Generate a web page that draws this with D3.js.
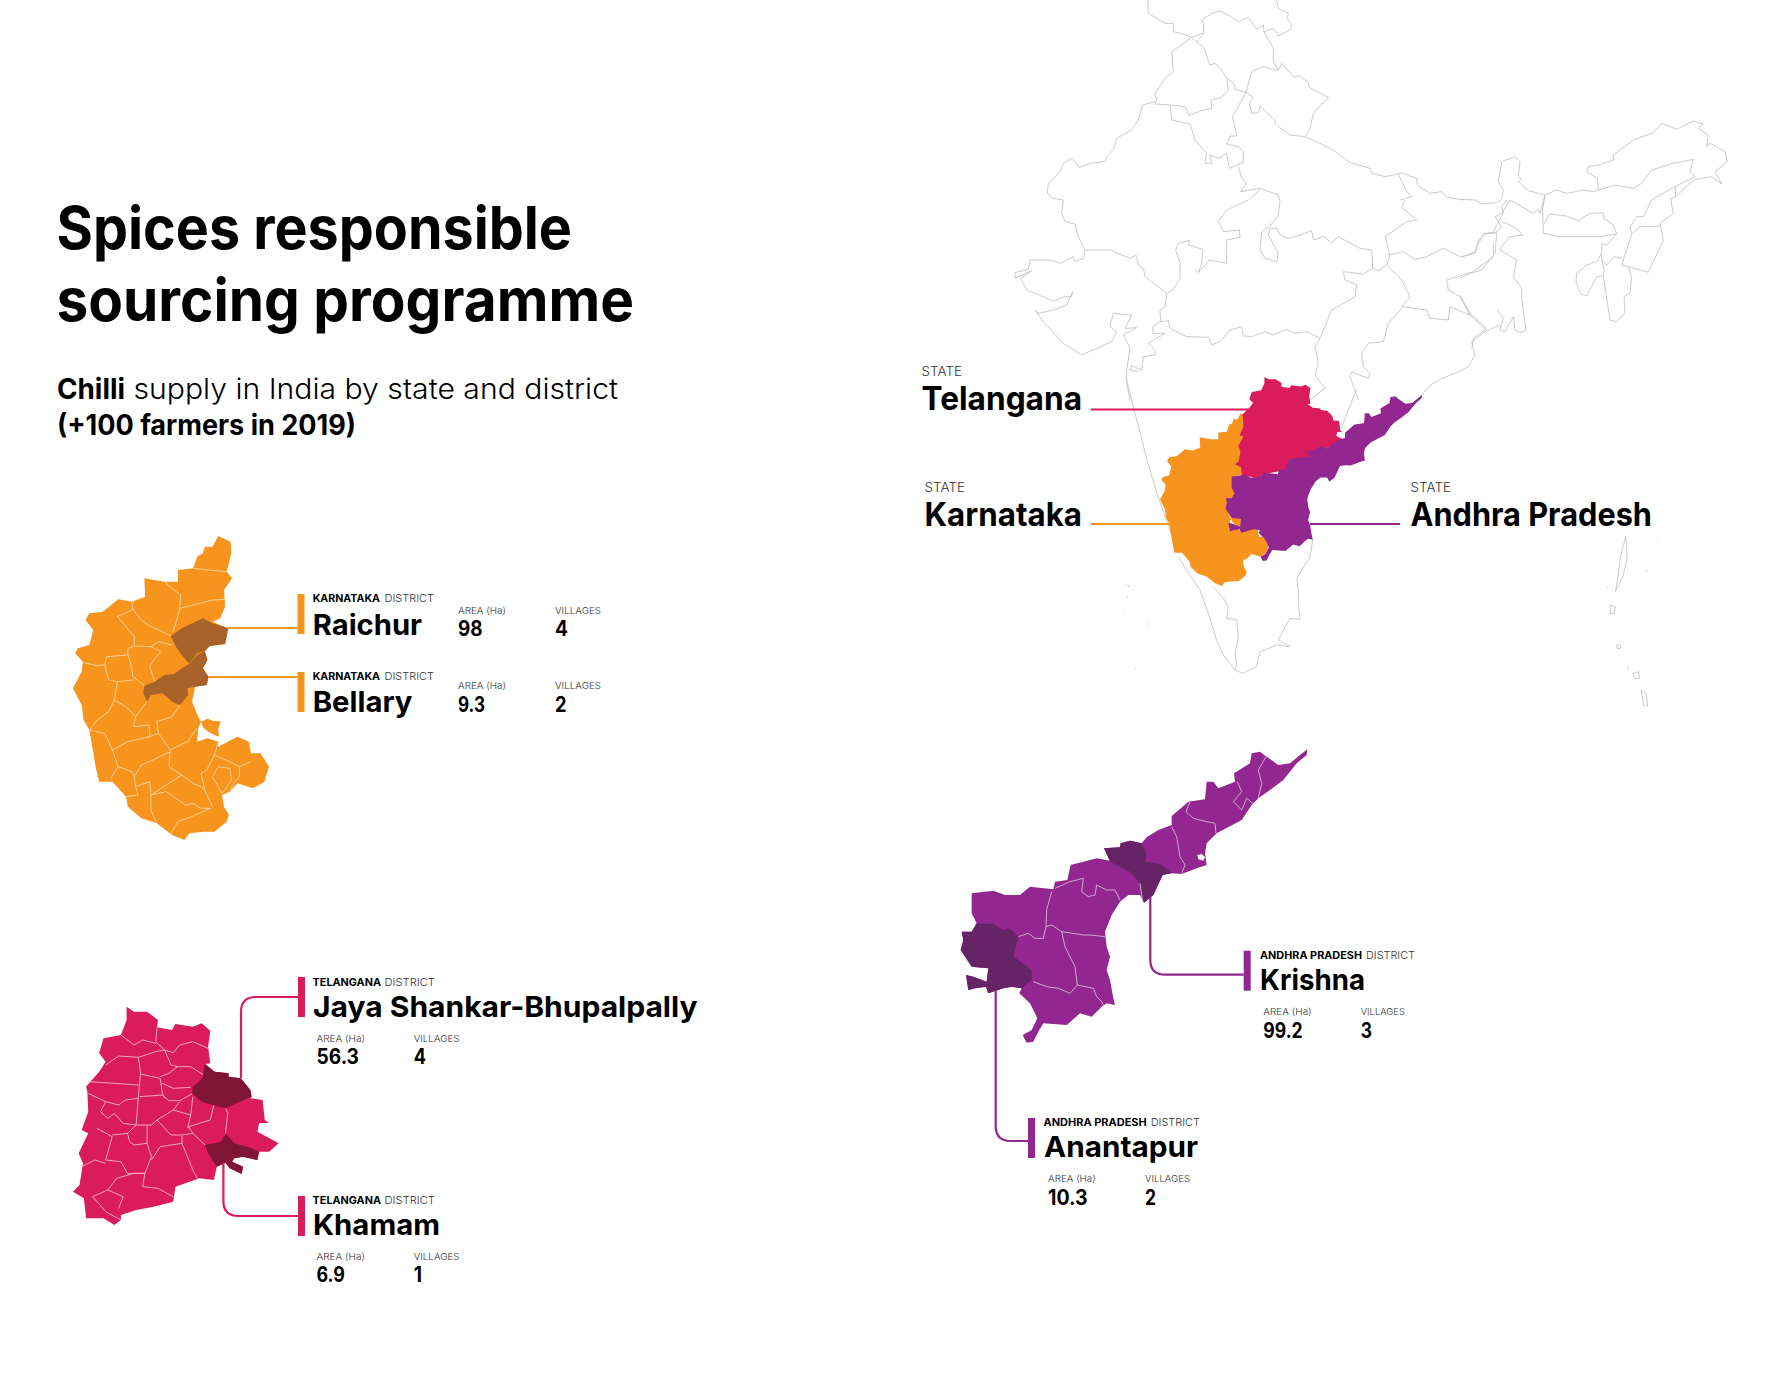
<!DOCTYPE html>
<html>
<head>
<meta charset="utf-8">
<script src="https://cdn.jsdelivr.net/npm/d3@7/dist/d3.min.js"></script>
<style>
  body { margin: 0; background: #fff; }
  svg { display: block; }
  text { font-family: Inter, Lato, sans-serif; }
</style>
</head>
<body>
<svg id="chart"></svg>
<script>
var svgW = 1783;
var svgH = 1378;

// ---- values
var stateNames = ["Telangana", "Karnataka", "Andhra Pradesh"];
var karnatakaDistricts = ["Raichur", "Bellary"];
var karnatakaAreas = ["98", "9.3"];
var karnatakaVillages = ["4", "2"];
var telanganaDistricts = ["Jaya Shankar-Bhupalpally", "Khamam"];
var telanganaAreas = ["56.3", "6.9"];
var telanganaVillages = ["4", "1"];
var andhraDistricts = ["Krishna", "Anantapur"];
var andhraAreas = ["99.2", "10.3"];
var andhraVillages = ["3", "2"];

// ---- outlines, in tracing units of each map
var karnatakaOutline = [[440,48],[472,65],[474,100],[462,155],[476,175],[455,210],[458,260],[445,295],[425,305],[466,325],[458,372],[418,378],[405,395],[412,420],[400,445],[415,470],[410,495],[380,500],[378,510],[372,545],[388,590],[395,605],[388,625],[385,665],[412,655],[440,665],[440,680],[490,650],[520,665],[525,700],[550,700],[572,740],[560,785],[530,805],[490,790],[470,815],[450,825],[455,860],[468,885],[462,905],[430,935],[400,935],[365,940],[352,960],[320,945],[280,910],[240,895],[205,860],[200,830],[165,785],[130,785],[122,745],[105,630],[90,600],[85,555],[62,505],[85,455],[88,425],[68,400],[75,385],[105,375],[115,330],[95,300],[105,280],[140,275],[180,238],[215,245],[250,230],[248,175],[300,185],[335,185],[335,150],[375,145],[385,110],[400,100],[405,80],[425,80]];
var karnatakaIsland = [[395,605],[412,596],[428,603],[446,604],[440,628],[442,650],[420,640],[402,625]];
var raichurOutline = [[317,348],[345,325],[400,295],[425,310],[466,325],[458,372],[418,378],[405,392],[385,400],[365,432],[345,405],[330,380]];
var bellaryOutline = [[365,432],[385,405],[405,392],[412,420],[400,445],[415,470],[410,495],[380,500],[360,505],[362,525],[340,555],[320,545],[295,520],[265,525],[255,545],[245,520],[248,497],[275,485],[300,465],[325,462],[345,445]];
var karnatakaBorders = [
  [[375,145],[415,150],[462,155]],
  [[300,185],[325,210],[342,225],[340,265],[425,240],[458,238]],
  [[340,265],[330,310],[322,335]],
  [[250,230],[215,245],[218,268],[178,290],[200,320],[222,350],[222,378],[205,385],[205,405],[150,410],[145,435],[125,437],[90,428]],
  [[218,268],[240,300],[265,320],[295,335],[317,348]],
  [[222,378],[265,380],[285,365],[320,375]],
  [[265,380],[290,395],[272,420],[262,440],[275,485]],
  [[205,405],[215,440],[218,470],[248,497]],
  [[145,435],[155,480],[178,485],[218,480]],
  [[178,485],[170,540],[155,575],[125,600],[105,630]],
  [[170,540],[200,560],[225,590],[220,620],[260,615],[262,650],[285,640],[315,690]],
  [[255,545],[225,590]],
  [[340,555],[320,590],[280,605],[285,640]],
  [[315,690],[360,665],[385,625]],
  [[105,630],[145,640],[165,690],[180,740],[160,775]],
  [[165,690],[205,665],[262,650]],
  [[180,740],[215,755],[222,770],[225,800],[232,825],[200,830]],
  [[315,695],[270,720],[240,735],[222,770]],
  [[315,695],[312,740],[345,765],[375,790],[395,800],[405,810]],
  [[345,765],[305,795],[265,825],[262,785],[225,800]],
  [[265,825],[305,815],[355,855],[375,850],[395,865],[420,865]],
  [[265,825],[265,870],[280,910]],
  [[420,865],[370,890],[335,905],[315,945]],
  [[440,665],[430,705],[410,750],[395,760],[405,810],[425,860]],
  [[430,705],[470,725],[495,740],[525,725]],
  [[495,740],[495,770],[480,790],[470,815]],
  [[425,770],[440,740],[470,745],[475,780],[450,820],[425,770]]
];

var telanganaOutline = [[178,110],[195,125],[225,125],[250,150],[248,172],[282,180],[290,162],[330,170],[350,160],[370,182],[365,230],[370,280],[358,282],[380,305],[412,310],[412,320],[440,325],[462,360],[465,380],[462,385],[490,390],[495,450],[505,458],[482,460],[478,485],[527,520],[505,545],[482,545],[478,570],[445,560],[425,565],[420,575],[445,590],[442,612],[415,595],[405,578],[385,590],[378,630],[345,625],[290,650],[285,695],[240,710],[200,720],[165,735],[165,750],[150,765],[125,745],[85,745],[80,685],[55,665],[70,645],[78,580],[68,550],[90,490],[75,480],[90,425],[88,365],[85,350],[115,305],[130,275],[115,250],[125,205],[165,195],[178,150]];
var bhupalpallyOutline = [[358,282],[380,305],[412,310],[412,320],[440,325],[462,360],[465,380],[430,400],[405,415],[375,405],[350,395],[328,370],[330,350],[352,325]];
var khamamOutline = [[405,490],[425,520],[455,530],[482,545],[478,570],[445,560],[425,565],[420,575],[445,590],[442,612],[415,595],[405,578],[385,590],[365,550],[358,525],[395,515]];
var telanganaBorders = [
  [[165,195],[195,225],[215,210],[245,220]],
  [[248,172],[245,215],[265,240],[285,248],[300,225],[330,215],[365,235]],
  [[130,285],[160,258],[205,262],[245,245],[265,240],[280,285],[295,290],[325,290],[355,315]],
  [[205,262],[210,310],[205,380],[200,465]],
  [[210,312],[255,325],[260,370],[265,385]],
  [[255,320],[275,310],[295,290]],
  [[260,340],[285,355],[325,352]],
  [[208,380],[260,375],[275,392],[300,392],[330,370]],
  [[90,335],[150,340],[205,345]],
  [[90,370],[130,395],[160,405],[175,390],[205,385]],
  [[130,395],[118,425],[135,445],[150,430],[170,460],[200,465],[235,465],[248,450],[285,420],[325,435],[330,380]],
  [[285,420],[300,395]],
  [[248,450],[280,495],[305,495],[330,490],[350,515],[358,525]],
  [[330,490],[320,470],[370,450],[378,405]],
  [[325,435],[318,475]],
  [[405,415],[410,430],[405,490]],
  [[180,490],[200,465]],
  [[180,490],[185,515],[195,525],[225,520],[225,465]],
  [[110,475],[145,500],[130,570],[165,575],[180,610],[220,610]],
  [[145,495],[180,490]],
  [[225,520],[235,560],[220,610],[215,650],[250,655],[285,680]],
  [[235,570],[255,530],[305,520],[330,600],[340,625]],
  [[305,498],[305,520]],
  [[75,590],[105,570],[130,580]],
  [[220,610],[195,610],[155,625],[135,660],[100,680],[130,725],[165,750]],
  [[135,660],[170,680],[160,715]]
];

var andhraOutline = [[1072,28],[1070,45],[1040,70],[1000,120],[960,150],[925,175],[905,195],[875,240],[800,280],[770,310],[765,340],[770,375],[740,385],[695,402],[665,400],[638,405],[610,465],[582,488],[570,465],[535,465],[510,485],[485,525],[465,575],[470,620],[480,650],[470,690],[480,720],[490,775],[495,795],[470,790],[455,800],[425,830],[390,820],[350,855],[280,850],[265,875],[250,905],[230,908],[218,885],[245,870],[262,835],[240,790],[208,760],[215,745],[185,740],[160,745],[115,760],[108,740],[75,745],[55,750],[48,705],[70,710],[110,725],[115,685],[65,680],[32,630],[40,600],[35,575],[65,575],[80,550],[65,520],[65,460],[130,452],[165,465],[210,465],[240,440],[310,448],[315,425],[352,420],[362,375],[400,365],[440,355],[480,362],[462,325],[510,322],[512,310],[540,302],[575,310],[590,292],[625,270],[665,255],[665,228],[715,185],[765,178],[770,125],[790,125],[805,145],[855,125],[852,100],[900,70],[905,40],[930,35],[950,50],[985,75],[1020,70],[1050,45]];
var andhraLake = [[742,345],[755,342],[765,352],[760,362],[745,358]];
var krishnaOutline = [[462,325],[510,322],[512,310],[540,302],[575,310],[590,345],[585,365],[630,372],[665,400],[638,405],[610,465],[582,488],[570,430],[540,395],[480,365]];
var anantapurOutline = [[80,550],[130,552],[160,570],[180,565],[205,590],[190,650],[245,690],[245,720],[215,745],[185,740],[160,745],[115,760],[108,740],[75,745],[55,750],[48,705],[70,710],[110,725],[115,685],[65,680],[32,630],[40,600],[35,575],[65,575]];
var andhraBorders = [
  [[948,50],[925,90],[935,130],[925,175]],
  [[862,125],[875,155],[850,185],[875,210],[890,175],[908,190]],
  [[720,185],[708,215],[730,235],[770,245],[795,250],[798,280]],
  [[665,260],[680,290],[690,350],[705,375],[695,400]],
  [[510,480],[495,450],[470,450],[440,435],[435,465],[415,470],[395,455],[400,415],[360,425],[315,445]],
  [[305,455],[290,510],[288,560],[305,555],[335,575],[400,585],[420,585],[465,590]],
  [[288,560],[280,595],[255,595],[235,580],[205,590]],
  [[335,575],[345,620],[375,680],[382,735],[360,760],[325,745],[290,740],[250,725]],
  [[382,735],[430,745],[440,770],[455,785],[460,795]]
];

// India base map, one list per crop it was traced from
var indiaNorthWest = [
  [[413,0],[415,40],[465,70],[490,70],[490,95],[520,102],[545,112],[580,98],[582,75],[575,60],[610,38],[630,33],[650,42],[685,65],[715,52],[740,88],[760,75],[762,95],[790,85],[805,108],[840,90],[846,75],[832,55],[835,40],[805,25],[800,0]],
  [[545,112],[560,128],[580,140],[600,195],[615,190],[635,210],[650,235],[672,250],[675,268],[708,277]],
  [[582,98],[560,128]],
  [[762,95],[790,145],[790,185],[805,210],[815,190],[850,230],[870,228],[895,248],[898,262],[955,292],[910,340],[900,385],[885,410]],
  [[708,277],[718,240],[725,215],[760,200],[805,212]],
  [[708,277],[730,292],[718,310],[725,340],[745,338],[750,318],[795,360],[795,372],[840,405],[885,410],[920,425],[970,450],[1020,488],[1080,505],[1085,520],[1125,530],[1165,522]],
  [[545,112],[485,155],[490,215],[465,235],[435,280],[440,298],[435,312],[480,315],[525,320],[537,345],[580,330],[605,325],[605,300],[635,292],[655,270],[650,235]],
  [[435,305],[398,315],[385,360],[362,392],[320,415],[310,450],[290,470],[285,485],[240,490],[208,503],[185,475],[160,490],[150,515],[115,550],[112,580],[130,595],[160,600]],
  [[480,315],[485,360],[540,372],[555,420],[590,460],[585,490],[605,490],[600,465],[625,475],[650,460],[658,505],[700,488],[700,455],[685,440],[650,432],[660,408],[680,408],[668,350],[708,277]],
  [[685,500],[695,535],[710,550],[692,575],[750,565],[805,585],[808,600]],
  [[718,600],[750,568]],
  [[1165,522],[1175,518],[1220,535],[1222,555],[1260,580],[1295,575],[1310,592],[1360,600]],
  [[1165,522],[1190,575],[1205,590],[1170,600]]
];

var indiaWest = [
  [[160,0],[155,40],[165,65],[195,72],[205,110],[225,150],[300,150],[360,175],[378,165],[385,195],[400,205],[405,230],[470,280],[490,268],[510,235],[510,190],[497,150],[505,130],[540,120],[535,135],[578,148],[575,190],[565,218],[553,205]],
  [[565,218],[598,180],[650,190],[650,150],[650,120],[690,112],[688,90],[640,95],[625,65],[650,30],[715,0]],
  [[225,150],[220,175],[195,185],[190,170],[150,190],[120,180],[60,180],[55,208],[15,218],[15,235],[65,212],[32,235],[50,270],[130,303],[165,290],[185,290],[188,275],[170,315],[130,330],[85,340],[75,330],[100,365],[160,430],[215,465],[305,425],[320,395],[300,380],[310,340],[365,345],[345,385],[380,383],[340,405],[360,445],[350,510],[350,550],[360,600]],
  [[470,280],[465,320],[450,330],[452,365],[475,362],[480,385],[530,410],[595,412],[605,435],[630,425],[660,390],[695,380],[700,408],[725,410],[765,395],[790,405],[830,388],[855,400],[890,395],[930,415],[915,440],[925,490],[915,525],[945,565],[900,600]],
  [[450,365],[428,380],[430,400],[465,400],[415,430],[435,450],[435,465],[400,470],[395,510],[365,497],[360,510],[385,515]],
  [[810,0],[805,45],[780,78],[755,95],[750,150],[765,175],[800,185],[805,160],[775,105],[780,85],[800,85],[810,105],[835,115],[870,105],[905,92],[910,120],[940,110],[965,128],[985,110],[1050,145],[1085,150],[1088,205],[1105,212],[1130,195],[1140,165],[1125,110],[1190,65],[1220,60],[1175,22],[1185,0]],
  [[1088,205],[1060,222],[1000,215],[1005,240],[1040,255],[1035,290],[965,330],[930,415]],
  [[1135,165],[1180,155],[1215,178],[1245,172],[1300,145],[1355,172],[1395,155],[1420,100],[1450,100],[1455,85],[1480,40],[1475,20],[1490,0]],
  [[1130,195],[1175,240],[1200,290],[1175,320],[1250,330],[1260,355],[1315,360],[1320,320],[1380,345],[1430,392]],
  [[1450,130],[1450,170],[1390,215],[1310,240],[1315,270],[1350,290],[1380,345]],
  [[1175,325],[1135,370],[1120,425],[1075,430],[1055,460],[1060,500],[1080,520],[1075,535],[1025,515],[1020,530],[1045,600]],
  [[1470,375],[1430,392],[1385,425],[1395,465],[1375,500],[1335,520],[1285,540],[1255,560],[1225,600]]
];

var indiaNorthEast = [
  [[0,268],[45,270],[65,282],[110,278],[125,268],[130,240],[115,215],[125,155],[165,140],[180,155],[175,200],[183,208],[175,215],[205,242],[255,255],[290,240],[320,250],[370,240],[400,245],[465,225],[520,235],[545,220],[575,180],[640,160],[700,148],[690,185],[705,200],[645,230],[600,255],[575,270],[550,320],[530,320],[510,350],[515,372],[485,465],[565,487],[610,390],[600,340],[640,310],[632,265],[647,260],[700,210],[755,200],[785,222],[765,185],[802,155],[795,125],[750,100],[740,110],[745,75],[715,55],[730,42],[700,33],[650,58],[605,40],[580,68],[520,90],[460,135],[460,150],[415,165],[385,170],[380,185],[412,205],[415,240]],
  [[645,230],[647,260]],
  [[515,372],[540,350],[595,350],[600,340]],
  [[255,255],[248,300],[250,370],[300,380],[420,380],[470,372],[460,345],[430,325],[430,308],[390,310],[355,332],[320,318],[270,312],[250,345]],
  [[470,372],[440,405],[425,400],[425,430],[425,450],[440,465],[462,440],[485,445]],
  [[425,430],[410,455],[380,465],[350,490],[348,515],[362,550],[380,558],[395,530],[410,500],[430,498],[433,480],[425,450]],
  [[430,498],[450,630],[470,635],[495,610],[492,560],[510,550],[515,500],[505,470]],
  [[255,255],[240,310],[235,298],[220,310],[185,290],[150,270],[125,310],[105,320],[125,350],[105,370]],
  [[125,335],[150,345],[175,360],[188,375],[150,380],[125,410],[120,420],[170,450],[160,500],[185,535],[185,560],[195,640],[198,660],[180,668]],
  [[110,368],[85,368],[55,390],[45,430],[5,440]],
  [[110,370],[105,430],[65,480],[30,490],[0,505]],
  [[112,600],[130,625],[120,660],[135,665],[160,620],[165,660],[185,668]],
  [[0,555],[30,610],[75,650],[75,660],[40,685],[35,715]]
];

var indiaSouthTip = [
  [[175,50],[205,100],[240,150],[270,235],[290,300],[310,345],[345,390],[368,400],[410,380],[420,335],[470,315],[510,320],[475,300],[495,260],[510,235],[540,238],[535,190],[535,150],[530,115],[570,50],[578,0]],
  [[280,140],[310,175],[325,200],[320,235],[350,240],[355,290],[345,340],[350,370],[345,390]],
  [[20,133],[22,135]], [[40,148],[42,150]], [[22,170],[24,175]], [[88,197],[90,199]], [[8,200],[10,202]], [[12,215],[14,217]], [[85,250],[87,254]], [[42,385],[46,387]]
];

// west coast middle section and the islands
var indiaCoastIslands = [
  [[440,80],[460,200],[480,320],[495,400],[510,470],[540,600]],
  [[890,120],[860,235]],
  [[1415,560],[1405,620],[1400,680],[1395,725],[1410,680],[1418,620],[1415,560]],
  [[1385,765],[1395,770],[1393,790],[1385,790],[1385,765]],
  [[1398,885],[1405,885],[1405,895],[1398,895],[1398,885]],
  [[1430,970],[1440,965],[1442,985],[1432,985],[1430,970]],
  [[1445,1020],[1455,1030],[1458,1068],[1450,1065],[1445,1020]],
  [[1418,950],[1422,962]],
  [[1378,710],[1380,714]],
  [[1455,660],[1456,664]],
  [[1474,572],[1475,575]],
  [[445,705],[447,712]]
];

// ---- scales: tracing units to page
function panelScales(xDomain, xRange, yDomain, yRange){
  return {
    x: d3.scaleLinear().domain(xDomain).range(xRange),
    y: d3.scaleLinear().domain(yDomain).range(yRange)
  };
}

var karnatakaScale = panelScales([0,1560], [49,649], [0,1020], [520,860]);
var telanganaScale = panelScales([0,1560], [49,729], [0,1020], [970,1310]);
var andhraScale = panelScales([0,1500], [950,1450], [0,1500], [740,1240]);
var northWestScale = panelScales([0,1500], [1010,1510], [0,600], [0,200]);
var westScale = panelScales([0,1500], [1010,1510], [0,600], [200,400]);
var northEastScale = panelScales([0,900], [1460,1760], [0,720], [110,350]);
var southTipScale = panelScales([0,660], [1120,1340], [0,450], [540,690]);
var coastScale = panelScales([0,1560], [900,1700], [0,1140], [350,730]);

// the same state outlines, smaller, on the India map
var miniKarnataka = panelScales([62,572], [1160,1269], [48,960], [413.3,586]);
var miniTelangana = panelScales([55,527], [1235,1348], [110,765], [377,480]);
var miniAndhra = panelScales([30,1072], [1225,1422], [28,908], [395,561]);

var orange = "#f7941d", crimson = "#da1c5c", purple = "#92278f";
var orangeDark = "#a9622a", crimsonDark = "#7f1437", purpleDark = "#662366";
var greyLine = "#c4c4c4";

var svg = d3.select("#chart").attr("width", svgW).attr("height", svgH);

function drawShape(pts, sc, fill){
  var line = d3.line().x(function(d){ return sc.x(d[0]); }).y(function(d){ return sc.y(d[1]); })
    .curve(d3.curveLinearClosed);
  svg.append("path").attr("d", line(pts)).attr("fill", fill);
}

function drawLines(list, sc, color, w){
  var line = d3.line().x(function(d){ return sc.x(d[0]); }).y(function(d){ return sc.y(d[1]); });
  svg.append("g").attr("fill", "none").attr("stroke", color).attr("stroke-width", w)
    .attr("stroke-linejoin", "round")
    .selectAll("path").data(list).enter().append("path").attr("d", line);
}

// text with its width held to what the picture has
function label(str, x, y, endX, size, weight, fill){
  svg.append("text")
    .attr("x", x).attr("y", y)
    .attr("textLength", endX - x)
    .attr("lengthAdjust", "spacingAndGlyphs")
    .attr("font-size", size)
    .attr("font-weight", weight)
    .attr("fill", fill || "#000")
    .text(str);
}

// title block
label("Spices responsible", 56.5, 249, 572, 59, 700);
label("sourcing programme", 56.5, 321, 634, 59, 700);
label("Chilli", 57, 399, 125, 28, 700);
label("supply in India by state and district", 133.5, 399, 618, 28, 300);
label("(+100 farmers in 2019)", 57, 435, 356, 28, 700);

// India base map
drawLines(indiaNorthWest, northWestScale, greyLine, 0.9);
drawLines(indiaWest, westScale, greyLine, 0.9);
drawLines(indiaNorthEast, northEastScale, greyLine, 0.9);
drawLines(indiaSouthTip, southTipScale, greyLine, 0.9);
drawLines(indiaCoastIslands, coastScale, greyLine, 0.9);

// highlighted states on it
drawShape(karnatakaOutline, miniKarnataka, orange);
drawShape(karnatakaIsland, miniKarnataka, orange);
drawShape(telanganaOutline, miniTelangana, crimson);
drawShape(andhraOutline, miniAndhra, purple);

// state labels
var stateLabels = [
  {x: 921.6, stateEnd: 962, nameEnd: 1082, stateY: 376, nameY: 410, color: crimson, y: 409.5, x1: 1091, x2: 1251},
  {x: 924.6, stateEnd: 965, nameEnd: 1082, stateY: 491.7, nameY: 526, color: orange, y: 524, x1: 1091, x2: 1171},
  {x: 1410.5, stateEnd: 1451, nameEnd: 1652, stateY: 491.7, nameY: 526, color: purple, y: 524, x1: 1310, x2: 1400}
];
stateLabels.forEach(function(d, i){
  label("STATE", d.x, d.stateY, d.stateEnd, 12.5, 300, "#333");
  label(stateNames[i], d.x, d.nameY, d.nameEnd, 33, 700);
  svg.append("line").attr("x1", d.x1).attr("x2", d.x2).attr("y1", d.y).attr("y2", d.y)
    .attr("stroke", d.color).attr("stroke-width", 2.2);
});

// detail maps
drawShape(karnatakaOutline, karnatakaScale, orange);
drawShape(karnatakaIsland, karnatakaScale, orange);
drawLines(karnatakaBorders, karnatakaScale, "#fbd49c", 0.9);
drawShape(raichurOutline, karnatakaScale, orangeDark);
drawShape(bellaryOutline, karnatakaScale, orangeDark);

drawShape(telanganaOutline, telanganaScale, crimson);
drawLines(telanganaBorders, telanganaScale, "#f4b3c6", 0.9);
drawShape(bhupalpallyOutline, telanganaScale, crimsonDark);
drawShape(khamamOutline, telanganaScale, crimsonDark);

drawShape(andhraOutline, andhraScale, purple);
drawShape(andhraLake, andhraScale, "#fff");
drawLines(andhraBorders, andhraScale, "#d9b3d8", 0.9);
drawShape(krishnaOutline, andhraScale, purpleDark);
drawLines([[[570,430],[578,485]]], andhraScale, "#d9b3d8", 0.9);
drawShape(anantapurOutline, andhraScale, purpleDark);

// connector: elbow with a rounded corner, from the map to the bar
function connector(x0, y0, x1, y1, color){
  var r = 15;
  var p = d3.path();
  if (x0 === x1 || y0 === y1){
    p.moveTo(x0, y0);
    p.lineTo(x1, y1);
  } else {
    p.moveTo(x0, y0);
    var dy = y1 > y0 ? r : -r;
    p.lineTo(x0, y1 - dy);
    p.quadraticCurveTo(x0, y1, x0 + r, y1);
    p.lineTo(x1, y1);
  }
  svg.append("path").attr("d", p.toString()).attr("fill", "none")
    .attr("stroke", color).attr("stroke-width", 2.2);
}

function districtCard(stateLabel, name, area, villages, o){
  svg.append("rect").attr("x", o.barX).attr("y", o.barY).attr("width", 7).attr("height", 40).attr("fill", o.color);
  connector(o.cx, o.cy, o.barX, o.lineY, o.color);
  label(stateLabel, o.headX, o.headY, o.headEnd, 10.5, 700);
  label("DISTRICT", o.distX, o.headY, o.distEnd, 10.5, 300, "#333");
  label(name, o.nameX, o.nameY, o.nameEnd, 29, 700);
  label("AREA (Ha)", o.areaX, o.labelY, o.areaEnd, 9.5, 300, "#333");
  label(area, o.areaX, o.valueY, o.valEnd, 21, 700);
  label("VILLAGES", o.vilX, o.labelY, o.vilEnd, 9.5, 300, "#333");
  label(villages, o.vilX, o.valueY, o.vilValEnd, 21, 700);
}

districtCard("KARNATAKA", karnatakaDistricts[0], karnatakaAreas[0], karnatakaVillages[0], {
  color: orange, barX: 297.5, barY: 594, lineY: 628, cx: 228, cy: 628,
  headX: 312.7, headY: 602, headEnd: 380, distX: 384.5, distEnd: 434,
  nameX: 312.7, nameY: 635, nameEnd: 422,
  areaX: 458, areaEnd: 506, labelY: 614, valueY: 636, valEnd: 482.6,
  vilX: 555, vilEnd: 601, vilValEnd: 568
});
districtCard("KARNATAKA", karnatakaDistricts[1], karnatakaAreas[1], karnatakaVillages[1], {
  color: orange, barX: 297.5, barY: 672, lineY: 677, cx: 209, cy: 677,
  headX: 312.7, headY: 680, headEnd: 380, distX: 384.5, distEnd: 434,
  nameX: 312.7, nameY: 712, nameEnd: 412.5,
  areaX: 458, areaEnd: 506, labelY: 689, valueY: 712, valEnd: 485,
  vilX: 555, vilEnd: 601, vilValEnd: 566.5
});
districtCard("TELANGANA", telanganaDistricts[0], telanganaAreas[0], telanganaVillages[0], {
  color: crimson, barX: 298, barY: 977, lineY: 997, cx: 241, cy: 1078,
  headX: 312.6, headY: 985.7, headEnd: 381, distX: 384.5, distEnd: 435,
  nameX: 313, nameY: 1017, nameEnd: 697.5,
  areaX: 316.5, areaEnd: 365, labelY: 1041.7, valueY: 1064, valEnd: 359,
  vilX: 413.7, vilEnd: 459.5, vilValEnd: 426
});
districtCard("TELANGANA", telanganaDistricts[1], telanganaAreas[1], telanganaVillages[1], {
  color: crimson, barX: 298, barY: 1196, lineY: 1216, cx: 223.4, cy: 1163,
  headX: 312.6, headY: 1203.7, headEnd: 381, distX: 384.5, distEnd: 435,
  nameX: 313, nameY: 1235, nameEnd: 440,
  areaX: 316.5, areaEnd: 365, labelY: 1260, valueY: 1282, valEnd: 345,
  vilX: 413.7, vilEnd: 459.5, vilValEnd: 422
});
districtCard("ANDHRA PRADESH", andhraDistricts[0], andhraAreas[0], andhraVillages[0], {
  color: purple, barX: 1243.7, barY: 950.7, lineY: 974.7, cx: 1150.3, cy: 897,
  headX: 1260, headY: 959, headEnd: 1362, distX: 1366, distEnd: 1415,
  nameX: 1260, nameY: 990, nameEnd: 1365,
  areaX: 1263.3, areaEnd: 1311.7, labelY: 1015, valueY: 1037.7, valEnd: 1302.7,
  vilX: 1360.7, vilEnd: 1405, vilValEnd: 1372
});
districtCard("ANDHRA PRADESH", andhraDistricts[1], andhraAreas[1], andhraVillages[1], {
  color: purple, barX: 1028, barY: 1118, lineY: 1141, cx: 995.7, cy: 990,
  headX: 1043.5, headY: 1126, headEnd: 1146.7, distX: 1150.7, distEnd: 1200,
  nameX: 1044, nameY: 1157, nameEnd: 1198,
  areaX: 1048, areaEnd: 1095.7, labelY: 1182.3, valueY: 1205, valEnd: 1087.7,
  vilX: 1145, vilEnd: 1190, vilValEnd: 1156
});
</script>
</body>
</html>
